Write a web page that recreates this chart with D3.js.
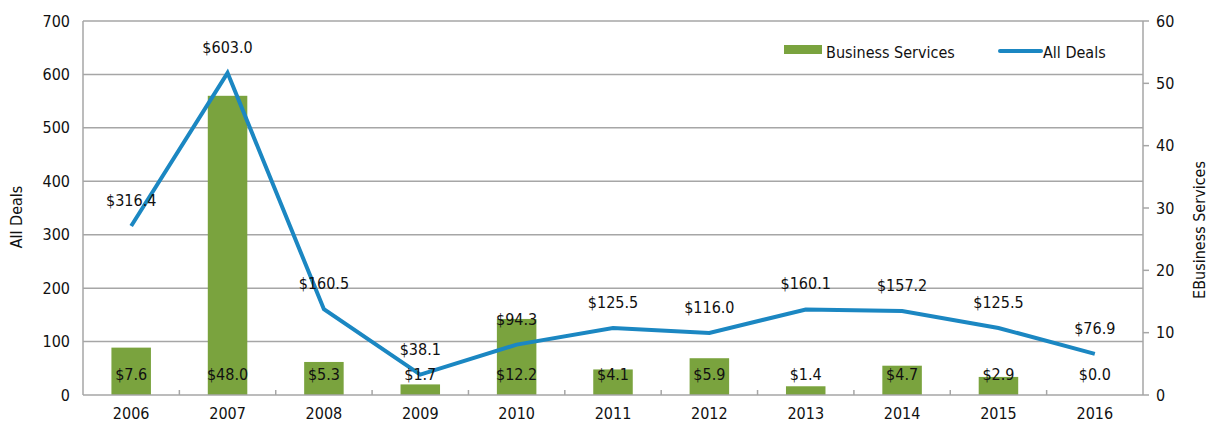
<!DOCTYPE html>
<html><head><meta charset="utf-8">
<script src="https://cdn.jsdelivr.net/npm/d3@7"></script>
<style>
body{margin:0;background:#fff;}
text{font-family:"DejaVu Sans Condensed","Liberation Sans Narrow",sans-serif;fill:#111;}
</style></head>
<body><svg id="c" width="1210" height="423"></svg>
<script>
const years = ["2006","2007","2008","2009","2010","2011","2012","2013","2014","2015","2016"];
const businessServices = [7.6,48.0,5.3,1.7,12.2,4.1,5.9,1.4,4.7,2.9,0.0];
const allDeals = [316.4,603.0,160.5,38.1,94.3,125.5,116.0,160.1,157.2,125.5,76.9];
const leftTicks = [0,100,200,300,400,500,600,700];
const rightTicks = [0,10,20,30,40,50,60];

const svg = d3.select("#c");
const L=83, R=1143, T=21, B=395;
const x = d3.scaleBand().domain(years).range([L,R]);
const yL = d3.scaleLinear().domain([0,700]).range([B,T]);
const yR = d3.scaleLinear().domain([0,60]).range([B,T]);
const grid="#a6a6a6";

// gridlines
svg.append("g").selectAll("line").data(leftTicks.slice(1)).join("line")
  .attr("x1",L).attr("x2",R).attr("y1",d=>yL(d)).attr("y2",d=>yL(d))
  .attr("stroke",grid).attr("stroke-width",1.5);

// bars
const bw = x.bandwidth()*0.41;
svg.append("g").selectAll("rect").data(years).join("rect")
  .attr("x",d=>x(d)+x.bandwidth()/2-bw/2)
  .attr("width",bw)
  .attr("y",(d,i)=>yR(businessServices[i]))
  .attr("height",(d,i)=>B-yR(businessServices[i]))
  .attr("fill","#7aa33e");

// axes lines
svg.append("line").attr("x1",L).attr("x2",L).attr("y1",T).attr("y2",B).attr("stroke",grid).attr("stroke-width",1.5);
svg.append("line").attr("x1",R).attr("x2",R).attr("y1",T).attr("y2",B).attr("stroke",grid).attr("stroke-width",1.5);
svg.append("line").attr("x1",L).attr("x2",R).attr("y1",B).attr("y2",B).attr("stroke",grid).attr("stroke-width",1.5);

// x ticks between categories
svg.append("g").selectAll("line").data(years.slice(1)).join("line")
  .attr("x1",d=>x(d)).attr("x2",d=>x(d)).attr("y1",B).attr("y2",B-5)
  .attr("stroke",grid).attr("stroke-width",1.5);
// right ticks
svg.append("g").selectAll("line").data(rightTicks).join("line")
  .attr("x1",R).attr("x2",R+6).attr("y1",d=>yR(d)).attr("y2",d=>yR(d))
  .attr("stroke",grid).attr("stroke-width",1.5);

// line
const line = d3.line().x((d,i)=>x(years[i])+x.bandwidth()/2).y(d=>yL(d));
svg.append("path").datum(allDeals).attr("d",line).attr("fill","none")
  .attr("stroke","#1b87c2").attr("stroke-width",4).attr("stroke-linejoin","miter");

// tick labels
svg.append("g").selectAll("text").data(leftTicks).join("text")
  .attr("x",70).attr("y",d=>yL(d)).attr("dy","0.35em").attr("text-anchor","end")
  .attr("font-size",16).text(d=>d);
svg.append("g").selectAll("text").data(rightTicks).join("text")
  .attr("x",1156).attr("y",d=>yR(d)).attr("dy","0.35em").attr("text-anchor","start")
  .attr("font-size",16).text(d=>d);
svg.append("g").selectAll("text").data(years).join("text")
  .attr("x",d=>x(d)+x.bandwidth()/2).attr("y",419).attr("text-anchor","middle")
  .attr("font-size",16).text(d=>d);

// data labels
svg.append("g").selectAll("text").data(allDeals).join("text")
  .attr("x",(d,i)=>x(years[i])+x.bandwidth()/2).attr("y",d=>yL(d)-20)
  .attr("text-anchor","middle").attr("font-size",16).text(d=>"$"+d.toFixed(1));
svg.append("g").selectAll("text").data(businessServices).join("text")
  .attr("x",(d,i)=>x(years[i])+x.bandwidth()/2).attr("y",380)
  .attr("text-anchor","middle").attr("font-size",16).text(d=>"$"+d.toFixed(1));

// axis titles
svg.append("text").attr("transform","translate(22,217) rotate(-90)").attr("text-anchor","middle")
  .attr("font-size",16).text("All Deals");
svg.append("text").attr("transform","translate(1205,230) rotate(-90)").attr("text-anchor","middle")
  .attr("font-size",16).text("EBusiness Services");

// legend
svg.append("rect").attr("x",784).attr("y",45).attr("width",38).attr("height",9).attr("fill","#7aa33e");
svg.append("text").attr("x",826).attr("y",58).attr("font-size",16).text("Business Services");
svg.append("line").attr("x1",1000).attr("x2",1041).attr("y1",51).attr("y2",51).attr("stroke","#1b87c2").attr("stroke-width",4).attr("stroke-linecap","round");
svg.append("text").attr("x",1043).attr("y",58).attr("font-size",16).text("All Deals");
</script></body></html>
